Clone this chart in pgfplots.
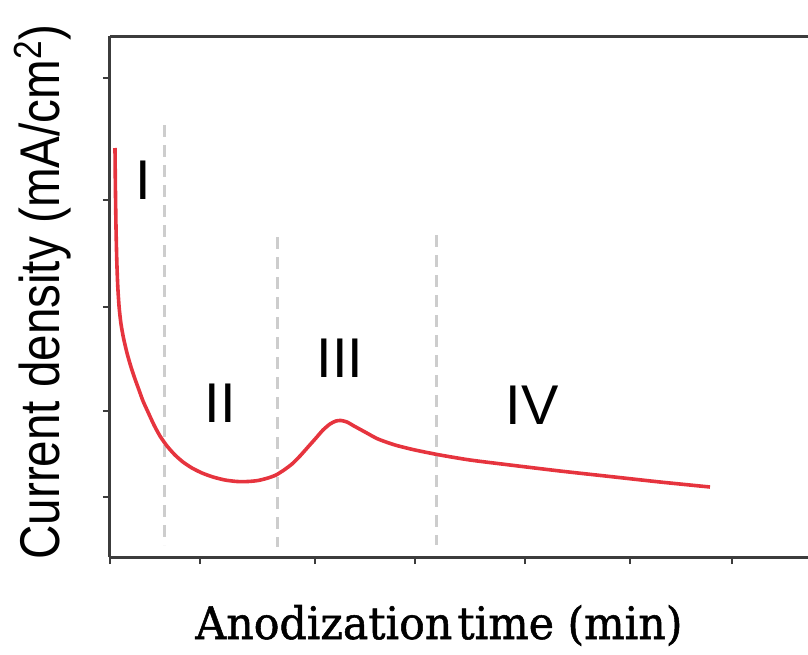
\documentclass[border=0pt]{standalone}
\usepackage{pgfplots}
\pgfplotsset{compat=1.18}
\usepackage{fontspec}
\setmainfont{Liberation Sans}
\newfontfamily\narrowfont[FakeStretch=0.85]{Liberation Sans}
\newfontfamily\slabfont[FakeBold=1.2]{DejaVu Serif}
\definecolor{axisgray}{RGB}{60,60,60}
\definecolor{curvered}{RGB}{230,52,62}
\definecolor{dashgray}{RGB}{205,205,205}
\begin{document}
\begin{tikzpicture}
% units: 1 data unit = 1 px of the reference = 0.5pt
\begin{axis}[
    scale only axis,
    width=349pt, height=260.5pt,
    xmin=0, xmax=698, ymin=0, ymax=521,
    separate axis lines,
    axis x line=box, axis y line=left,
    axis line style={-, line width=1.5pt, color=axisgray},
    tick pos=left, tick align=outside,
    major tick length=3.5pt,
    tick style={line width=1pt, color=axisgray},
    xtick={0,90,205,305,415,520,622},
    ytick={60,146,250,357,479},
    xticklabels={}, yticklabels={},
    clip=false,
]
% phase boundaries
\addplot[dashgray, line width=1.5pt, dash pattern=on 6pt off 4pt] coordinates {(55,432) (55,12)};
\addplot[dashgray, line width=1.5pt, dash pattern=on 6pt off 4pt] coordinates {(168,320) (168,10)};
\addplot[dashgray, line width=1.5pt, dash pattern=on 6pt off 4pt] coordinates {(326,322) (326,12)};
% current transient
\addplot[curvered, line width=1.8pt, smooth, tension=0.4] coordinates {
(5,409)(5.4,370)(6,330)(6.8,296)(7.8,270)(9.2,249)(11,233)(13.5,219)
(17,204)(21,190)(25,178)(29,167)(33,156)(38,145)(44,132)(50,121)(57,111)
(65,102)(73,95)(82,89)(92,84)(103,80)(115,77)(127,75.5)(138,75.5)(148,76.5)
(158,79)(166,82)(174,87)(182,93)(190,101)(198,110)(206,119)(213,127)
(220,133)(226,136)(231,136.5)(237,135)(244,131)(255,125)(268,118)(285,112)
(305,107)(330,102)(360,97)(400,92)(450,86)(500,80.5)(550,75)(600,70)
};
\node[font=\fontsize{28}{30}\selectfont] at (axis cs:33,377) {I};
\node[font=\fontsize{28}{30}\selectfont] at (axis cs:110,154) {II};
\node[font=\fontsize{28}{30}\selectfont] at (axis cs:230,199) {III};
\node[font=\fontsize{28}{30}\selectfont] at (axis cs:422,152) {IV};
\node[anchor=base, inner sep=0pt] at (axis cs:329,-82)
  {\resizebox{243.5pt}{17pt}{\slabfont Anodization\hspace{0.12em}time (min)}};
\node[rotate=90, anchor=base, inner sep=0pt] at (axis cs:-50,265)
  {\narrowfont\fontsize{28}{30}\selectfont Current density (mA/cm\textsuperscript{2})};
\end{axis}
\pgfresetboundingbox
\path[use as bounding box] (-55pt,-48.5pt) rectangle (349pt,278.5pt);
\end{tikzpicture}
\end{document}
